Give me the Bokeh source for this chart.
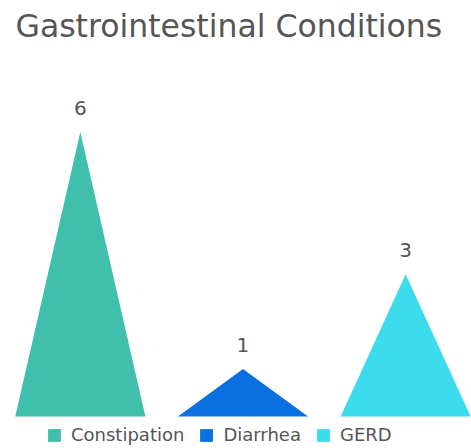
from bokeh.plotting import figure
from bokeh.models import ColumnDataSource, Range1d, Label, Legend, LegendItem
from bokeh.core.properties import value
from bokeh.embed import file_html
from bokeh.resources import INLINE

title_text = "Gastrointestinal Conditions"
categories = ["Constipation", "Diarrhea", "GERD"]
values = [6, 1, 3]
colors = ["#40BFAD", "#0A70E0", "#3DDCEC"]

FONT = "DejaVu Sans"
TEXT_COLOR = "#555555"
half_w = 0.4

xs = [[i - half_w, i, i + half_w] for i in range(len(categories))]
ys = [[0, v, 0] for v in values]
src = ColumnDataSource(dict(x=list(range(len(categories))), val=values,
                            lab=[str(v) for v in values]))

p = figure(width=471, height=448, output_backend="svg", toolbar_location=None,
           x_range=Range1d(-0.4908, 2.4049), y_range=Range1d(-0.675, 8.776),
           min_border=0, min_border_left=0, min_border_right=0,
           min_border_top=0, min_border_bottom=0)
p.axis.visible = False
p.grid.visible = False
p.outline_line_color = None
p.background_fill_color = "white"
p.border_fill_color = "white"

items = []
for i, c in enumerate(categories):
    r = p.patch(x=xs[i], y=ys[i], fill_color=colors[i], line_color=None)
    items.append(LegendItem(label=c, renderers=[r]))

p.text(x="x", y="val", text="lab", source=src, text_font=value(FONT),
       text_font_size="20px", text_color=TEXT_COLOR, text_align="center",
       text_baseline="alphabetic", y_offset=-24)

p.add_layout(Label(x=15, y=423, x_units="screen", y_units="screen", text=title_text,
                   text_font=FONT, text_font_size="31.5px", text_color=TEXT_COLOR,
                   text_baseline="alphabetic"))

legend = Legend(items=items, orientation="horizontal", location=(46, 3),
                padding=0, margin=0, spacing=14, label_standoff=9,
                glyph_width=16, glyph_height=16, label_height=16,
                label_text_font=FONT, label_text_font_size="18px",
                label_text_color=TEXT_COLOR, border_line_color=None,
                background_fill_alpha=0)
p.add_layout(legend)

open("out.html", "w").write(file_html(p, INLINE))
